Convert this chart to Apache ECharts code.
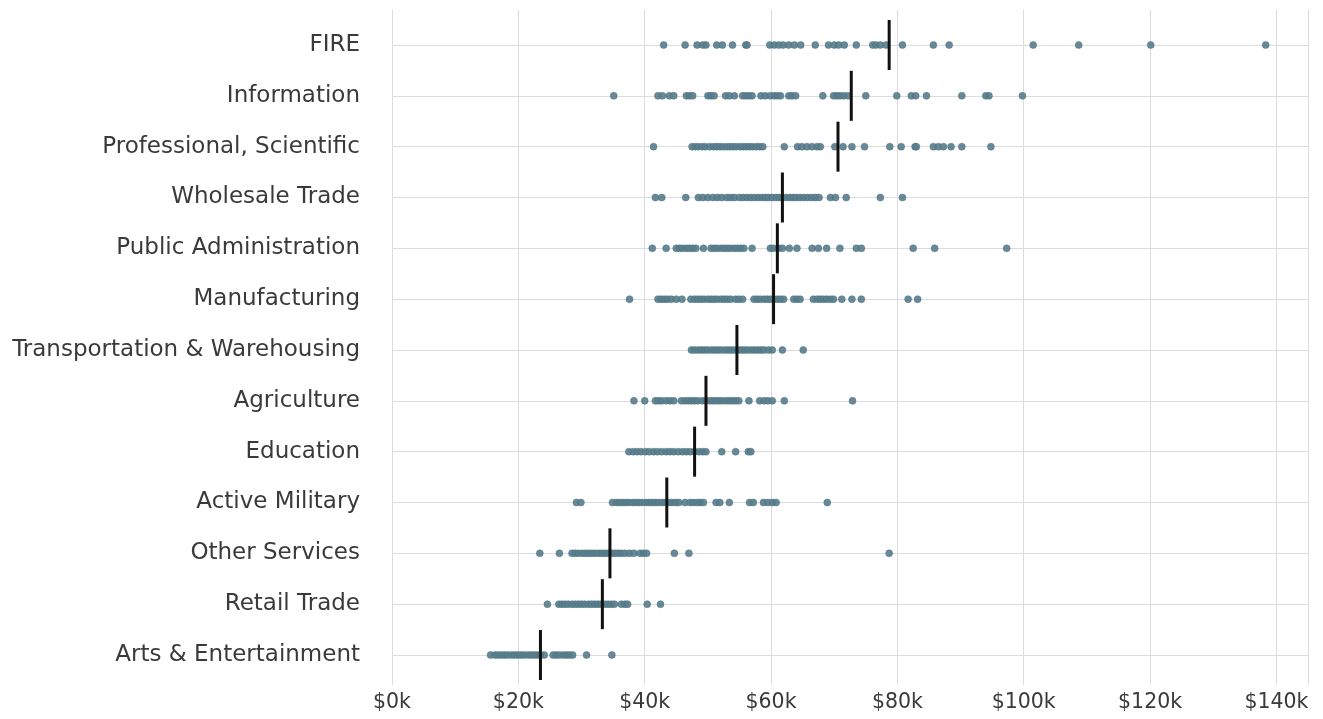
<!DOCTYPE html>
<html>
<head>
<meta charset="utf-8">
<script src="https://cdn.jsdelivr.net/npm/echarts@6/dist/echarts.min.js"></script>
<style>
  html, body { margin: 0; padding: 0; background: #ffffff; }
  #chart { width: 1323px; height: 719px; }
</style>
</head>
<body>
<div id="chart"></div>
<script>
// Industries, top to bottom
const industries = [
  'FIRE', 'Information', 'Professional, Scientific', 'Wholesale Trade',
  'Public Administration', 'Manufacturing', 'Transportation & Warehousing',
  'Agriculture', 'Education', 'Active Military', 'Other Services',
  'Retail Trade', 'Arts & Entertainment'
];

// Earnings by industry, thousands of dollars (one dot per observation)
const fire = [43.0,46.4,48.3,49.2,49.7,51.4,52.3,53.9,56.0,56.2,59.8,60.5,61.2,61.9,62.8,63.7,64.7,67.0,69.1,70.0,70.7,71.6,73.5,76.1,76.6,77.3,78.2,80.8,85.7,88.2,101.5,108.7,120.1,138.3];
const information = [35.1,42.1,42.8,43.9,44.6,46.6,47.1,47.6,50.0,50.5,51.0,52.8,53.4,54.2,55.5,56.0,56.5,57.0,58.4,59.1,59.9,60.5,61.0,61.5,62.8,63.3,63.9,68.2,69.9,70.4,70.9,71.5,72.2,75.0,79.9,82.2,82.9,84.6,90.2,94.0,94.5,99.8];
const professional = [41.4,47.5,48.0,48.5,49.1,49.6,50.3,50.9,51.4,51.9,52.4,53.0,53.5,54.0,54.5,55.1,55.6,56.1,56.6,57.1,57.7,58.2,58.7,62.1,64.2,64.9,65.7,66.5,67.3,67.8,70.1,71.4,72.8,74.8,78.8,80.6,82.8,83.0,85.7,86.5,87.3,88.5,90.2,94.8];
const wholesale = [41.7,42.7,46.5,48.5,49.2,50.0,50.8,51.5,52.2,53.0,53.6,54.2,55.0,55.6,56.2,56.8,57.4,58.0,58.6,59.1,59.6,60.2,60.8,61.3,61.8,62.4,63.0,63.5,64.0,64.6,65.2,65.8,66.4,67.0,67.6,69.4,70.2,71.9,77.3,80.8];
const publicAdmin = [41.2,43.4,45.0,45.5,46.0,46.6,47.1,47.6,48.1,49.3,50.5,51.0,51.5,52.1,52.6,53.1,53.6,54.2,54.7,55.2,55.7,57.0,59.9,60.4,61.2,61.8,62.9,64.1,66.5,67.5,68.8,70.9,73.5,74.3,82.5,85.9,97.3];
const manufacturing = [37.6,42.1,42.6,43.1,43.6,44.2,45.0,45.9,47.3,47.9,48.4,48.9,49.4,50.0,50.5,51.0,51.5,52.1,52.6,53.1,53.6,54.4,54.9,55.5,57.3,57.8,58.3,58.9,59.4,59.9,60.4,61.0,61.5,62.0,63.6,64.1,64.6,66.7,67.3,67.8,68.3,68.8,69.4,69.9,71.2,72.8,74.3,81.7,83.2];
const transportation = [47.4,47.9,48.5,49.0,49.5,50.0,50.6,51.1,51.6,52.1,52.7,53.2,53.7,54.2,54.8,55.3,55.8,56.3,56.9,57.4,57.9,58.4,58.9,59.6,60.2,61.8,65.1];
const agriculture = [38.3,40.0,41.7,42.2,42.7,43.4,44.0,44.6,45.8,46.4,46.9,47.4,47.9,48.4,49.1,49.7,50.3,50.8,51.3,51.8,52.3,52.9,53.4,53.9,54.4,54.9,56.5,58.2,58.9,59.5,60.2,62.1,72.9];
const education = [37.5,38.2,38.8,39.4,40.1,40.7,41.4,42.0,42.7,43.4,44.0,44.6,45.3,46.0,46.6,47.2,47.9,48.6,49.2,49.7,52.2,54.4,56.4,56.8];
const military = [29.2,29.9,34.9,35.5,36.0,36.5,37.0,37.5,38.1,38.6,39.1,39.6,40.2,40.7,41.2,41.7,42.2,42.8,43.3,43.8,44.3,44.9,45.4,46.4,47.2,47.7,48.3,48.8,49.3,51.3,51.9,53.4,56.6,57.2,58.8,59.5,60.2,60.8,68.9];
const otherServices = [23.4,26.5,28.5,29.0,29.5,30.1,30.6,31.1,31.6,32.1,32.7,33.2,33.7,34.2,34.8,35.3,35.8,36.3,36.9,37.6,38.3,39.3,39.8,40.3,44.7,47.0,78.7];
const retail = [24.6,26.4,26.9,27.4,27.9,28.5,29.0,29.5,30.0,30.5,31.1,31.6,32.1,32.6,33.1,33.7,34.2,34.7,35.2,36.3,36.9,37.3,40.4,42.5];
const arts = [15.6,16.3,16.8,17.3,17.8,18.3,18.9,19.4,19.9,20.4,20.9,21.5,22.0,22.5,23.0,23.5,24.1,25.5,26.0,26.5,27.1,27.6,28.1,28.6,30.8,34.8];

// Median per industry, thousands of dollars
const medians = [78.7, 72.7, 70.6, 61.8, 61.0, 60.4, 54.6, 49.7, 47.9, 43.5, 34.5, 33.3, 23.5];

// X axis ticks (thousands of dollars)
const xTicks = [0, 20, 40, 60, 80, 100, 120, 140];

const rows = [fire, information, professional, wholesale, publicAdmin, manufacturing,
  transportation, agriculture, education, military, otherServices, retail, arts];

const dotData = [];
rows.forEach((vals, i) => vals.forEach(v => dotData.push([v, industries[i]])));
const medianData = medians.map((m, i) => [m, industries[i]]);

const FONT = '"DejaVu Sans", sans-serif';
const chart = echarts.init(document.getElementById('chart'), null, { renderer: 'canvas' });

chart.setOption({
  animation: false,
  backgroundColor: '#ffffff',
  grid: [
    // frame grid: vertical gridlines and dollar labels
    { left: 392, right: 15, top: 10, bottom: 34, containLabel: false },
    // data grid: one row per industry
    { left: 392, right: 15, top: 45, bottom: 64, containLabel: false }
  ],
  xAxis: [
    {
      gridIndex: 0, type: 'value', min: 0, max: 145, interval: 20,
      axisLine: { show: false }, axisTick: { show: false },
      splitLine: { show: true, lineStyle: { color: '#dcdcdc', width: 1 } },
      axisLabel: {
        showMaxLabel: false,
        color: '#3a3a3a', fontFamily: FONT, fontSize: 20.5, margin: 7,
        formatter: v => (xTicks.indexOf(v) >= 0 ? '$' + v + 'k' : '')
      }
    },
    {
      gridIndex: 1, type: 'value', min: 0, max: 145,
      show: false
    }
  ],
  yAxis: [
    { gridIndex: 0, type: 'value', show: false },
    {
      gridIndex: 1, type: 'category', data: industries, inverse: true,
      boundaryGap: false,
      axisLine: { show: false }, axisTick: { show: false },
      splitLine: { show: true, lineStyle: { color: '#dcdcdc', width: 1 } },
      axisLabel: { color: '#3a3a3a', fontFamily: FONT, fontSize: 23, margin: 32 }
    }
  ],
  series: [
    {
      type: 'scatter', xAxisIndex: 1, yAxisIndex: 1,
      data: dotData, symbol: 'circle', symbolSize: 7, clip: false,
      itemStyle: { color: '#587d8d', opacity: 0.9, borderColor: '#4a6c7b', borderWidth: 0.5 },
      z: 2
    },
    {
      type: 'scatter', xAxisIndex: 1, yAxisIndex: 1,
      data: medianData, symbol: 'rect', symbolSize: [3, 50], clip: false,
      itemStyle: { color: '#111111', opacity: 1 },
      z: 3
    }
  ]
});
</script>
</body>
</html>
